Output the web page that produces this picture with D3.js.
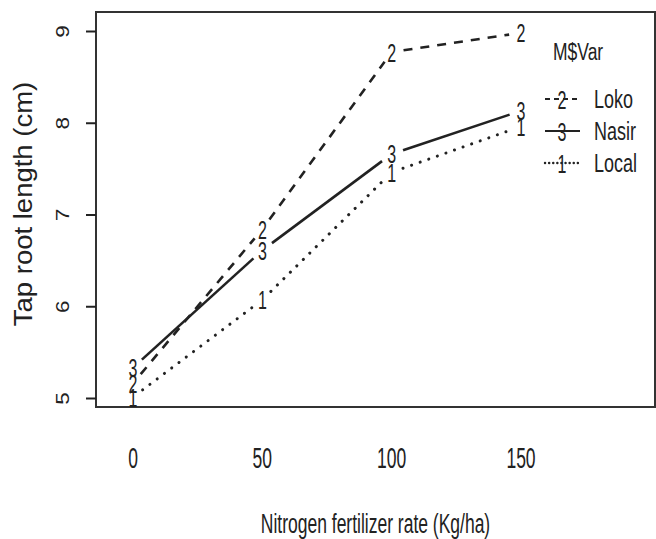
<!DOCTYPE html>
<html>
<head>
<meta charset="utf-8">
<script src="https://cdn.jsdelivr.net/npm/d3@7"></script>
<style>
  html, body { margin: 0; padding: 0; background: #fff; }
  svg text { font-family: "Liberation Sans", Arial, sans-serif; fill: #222; }
</style>
</head>
<body>
<svg id="chart" width="656" height="539"></svg>
<script>
// ---- data ----
const rates = [0, 50, 100, 150];
const xTickLabels = ["0", "50", "100", "150"];
const yTicks = [5, 6, 7, 8, 9];
const varieties = ["Loko", "Nasir", "Local"];
const symbols = ["2", "3", "1"];
const lokoValues = [5.16, 6.84, 8.77, 8.98];
const nasirValues = [5.33, 6.61, 7.66, 8.13];
const localValues = [5.01, 6.07, 7.46, 7.96];
const seriesValues = [lokoValues, nasirValues, localValues];
const dashes = ["9 8", null, "0.1 9"];

const xTitle = "Nitrogen fertilizer rate (Kg/ha)";
const yTitle = "Tap root length (cm)";
const legendTitle = "M$Var";

// ---- layout ----
const svg = d3.select("#chart");
const box = { left: 96, top: 12, right: 655, bottom: 407 };
const x = d3.scaleLinear().domain([0, 150]).range([133, 521]);
const y = d3.scaleLinear().domain([5, 9]).range([398, 31]);
const ink = "#222";

// plot box
svg.append("rect")
  .attr("x", box.left).attr("y", box.top)
  .attr("width", box.right - box.left).attr("height", box.bottom - box.top)
  .attr("fill", "none").attr("stroke", "#333").attr("stroke-width", 2);

// y axis
const yAxis = svg.append("g")
  .attr("transform", `translate(${box.left},0)`)
  .call(d3.axisLeft(y).tickValues(yTicks).tickSize(10).tickFormat(d3.format("d")));
yAxis.select(".domain").remove();
yAxis.selectAll(".tick line").attr("stroke", ink).attr("stroke-width", 2);
yAxis.selectAll(".tick text")
  .attr("x", null).attr("dy", null)
  .attr("text-anchor", "middle")
  .attr("font-size", 18)
  .attr("fill", ink)
  .attr("transform", "translate(-27,0) rotate(-90) scale(1.25,1)");

// x tick labels (no axis line, like R interaction.plot)
rates.forEach((r, i) => {
  svg.append("g")
    .attr("transform", `translate(${x(r)},458) scale(1,1.65)`)
    .append("text")
    .attr("text-anchor", "middle")
    .attr("dy", "0.36em")
    .attr("font-size", 17.5)
    .text(xTickLabels[i]);
});

// axis titles
svg.append("g")
  .attr("transform", `translate(${(box.left + box.right) / 2},523) scale(1,1.6)`)
  .append("text")
  .attr("text-anchor", "middle").attr("dy", "0.36em")
  .attr("font-size", 17.5)
  .text(xTitle);

svg.append("text")
  .attr("transform", "translate(32,204) rotate(-90) scale(1.1,1)")
  .attr("text-anchor", "middle")
  .attr("font-size", 25)
  .text(yTitle);

// series lines with gaps around the point characters (type = "b")
const gap = 12;
seriesValues.forEach((vals, s) => {
  const pts = rates.map((r, i) => [x(r), y(vals[i])]);
  for (let i = 0; i < pts.length - 1; i++) {
    const [x0, y0] = pts[i], [x1, y1] = pts[i + 1];
    const len = Math.hypot(x1 - x0, y1 - y0);
    const ux = (x1 - x0) / len, uy = (y1 - y0) / len;
    const seg = svg.append("line")
      .attr("x1", x0 + ux * gap).attr("y1", y0 + uy * gap)
      .attr("x2", x1 - ux * gap).attr("y2", y1 - uy * gap)
      .attr("stroke", ink).attr("stroke-width", s === 2 ? 3 : 2.6);
    if (dashes[s]) seg.attr("stroke-dasharray", dashes[s]);
    if (s === 2) seg.attr("stroke-linecap", "round");
  }
  pts.forEach(([px, py]) => {
    svg.append("g")
      .attr("transform", `translate(${px},${py}) scale(1,1.65)`)
      .append("text")
      .attr("text-anchor", "middle").attr("dy", "0.36em")
      .attr("font-size", 16)
      .text(symbols[s]);
  });
});

// legend
svg.append("g")
  .attr("transform", "translate(553,51) scale(1,1.35)")
  .append("text")
  .attr("dy", "0.36em").attr("font-size", 17.5)
  .text(legendTitle);

const legendY = [99, 131, 163];
varieties.forEach((name, s) => {
  const ly = legendY[s];
  const ln = svg.append("line")
    .attr("x1", 545).attr("x2", 580).attr("y1", ly).attr("y2", ly)
    .attr("stroke", ink).attr("stroke-width", s === 2 ? 2.4 : 2);
  if (s === 0) ln.attr("stroke-dasharray", "5 4");
  if (s === 2) ln.attr("stroke-dasharray", "0.1 4").attr("stroke-linecap", "round");
  svg.append("g")
    .attr("transform", `translate(562,${ly}) scale(1,1.65)`)
    .append("text")
    .attr("text-anchor", "middle").attr("dy", "0.36em")
    .attr("font-size", 16)
    .text(symbols[s]);
  svg.append("g")
    .attr("transform", `translate(594,${ly}) scale(1,1.45)`)
    .append("text")
    .attr("dy", "0.36em").attr("font-size", 18)
    .text(name);
});
</script>
</body>
</html>
